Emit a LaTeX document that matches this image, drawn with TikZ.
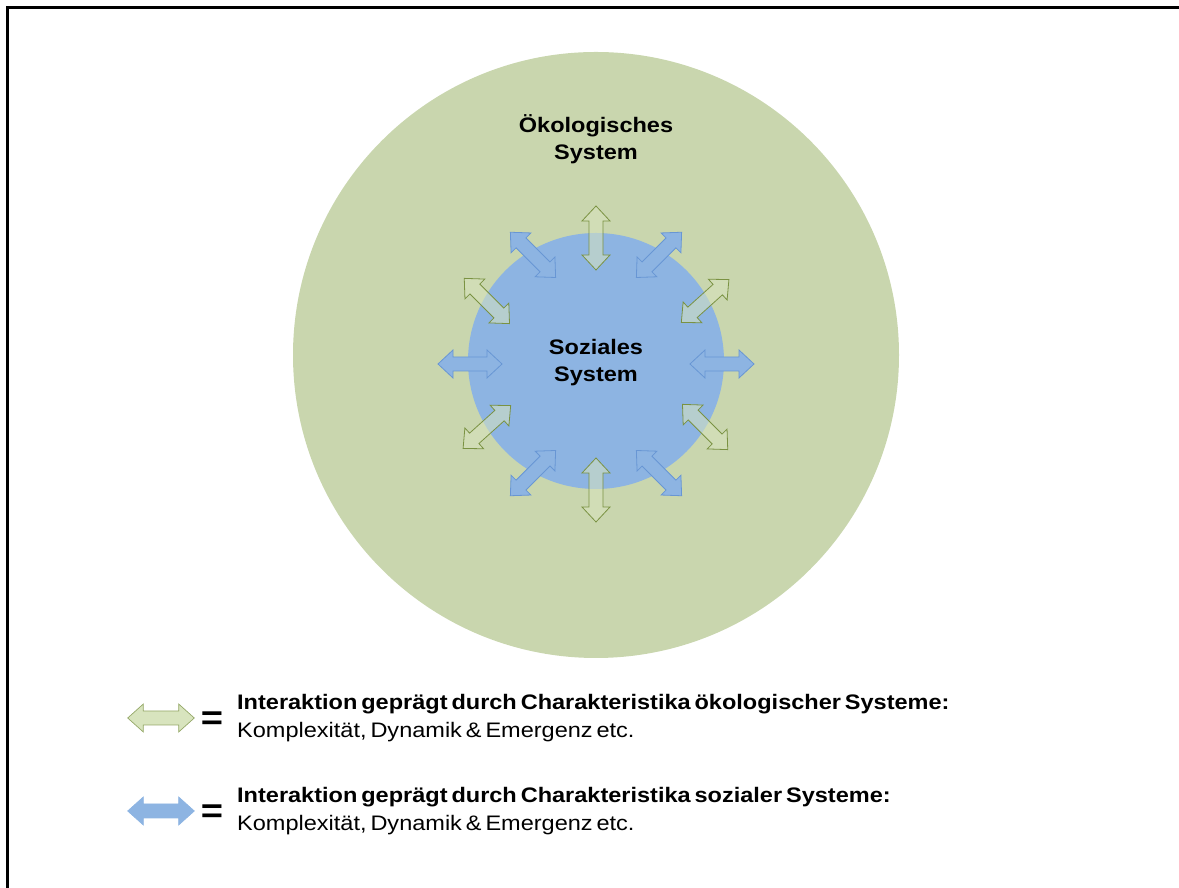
\documentclass[tikz,border=0pt]{standalone}
\usepackage{fontspec}
\setmainfont{Liberation Sans}[FakeStretch=1.12]
\newfontfamily\legendfont{Liberation Sans}[FakeStretch=1.12, WordSpace=0.6]
\usepackage{tikz}

\definecolor{oekogruen}{RGB}{201,214,174}
\definecolor{sozblau}{RGB}{141,180,226}
\definecolor{randblau}{RGB}{104,150,212}
\definecolor{hellgruen}{RGB}{216,228,190}
\definecolor{randgruen}{RGB}{122,146,66}

\tikzset{
	doppelpfeil/.pic={
		\path[pic actions] (-32,0) -- (-17,14) -- (-17,7) -- (17,7) -- (17,14) -- (32,0)
			-- (17,-14) -- (17,-7) -- (-17,-7) -- (-17,-14) -- cycle;
	},
	pfeilblau/.style={fill=sozblau, draw=randblau, line width=0.8pt},
	pfeilgruen/.style={fill=hellgruen, fill opacity=0.55, draw=randgruen, line width=0.8pt},
	titel/.style={font=\fontsize{21}{27}\selectfont\bfseries, align=center},
	legende/.style={font=\legendfont\fontsize{21}{28}\selectfont, align=left, anchor=west, inner sep=0pt},
	gleich/.style={font=\fontsize{34}{34}\selectfont\bfseries},
}

\begin{document}
\begin{tikzpicture}[x=1pt,y=1pt]
	\useasboundingbox (0,0) rectangle (1179,888);
	
	% Rahmen
	\draw[line width=3pt] (7,0) -- (7,880) -- (1179,880);
	
	% Kreise
	\fill[oekogruen] (596,533) circle (303);
	\fill[sozblau] (596,527) circle (128);
	
	\node[titel] (oeko) at (596,749) {Ökologisches\\System};
	\node[titel] (sozial) at (596,525) {Soziales\\System};
	
	% Pfeile rund um das soziale System
	\begin{scope}[shift={(596,524)}]
		\foreach \w/\r in {0/0,60/45,120/135,180/180,240/225,300/315}
			\pic[pfeilblau, rotate=\r] at (\w:126) {doppelpfeil};
		\foreach \w/\r in {30/42,90/90,150/135,210/222,270/90,330/315}
			\pic[pfeilgruen, rotate=\r] at (\w:126) {doppelpfeil};
	\end{scope}
	
	% Legende
	\pic[fill=hellgruen, draw=randgruen!80, line width=0.7pt, xscale=1.04] at (161,170) {doppelpfeil};
	\node[gleich] (gleich1) at (212,167) {=};
	\node[legende] (text1) at (237,170) {\textbf{Interaktion geprägt durch Charakteristika ökologischer Systeme:}\\Komplexität, Dynamik \& Emergenz etc.};
	
	\pic[fill=sozblau, draw=sozblau, line width=0.7pt, xscale=1.04] at (161,77) {doppelpfeil};
	\node[gleich] (gleich2) at (212,74) {=};
	\node[legende] (text2) at (237,77) {\textbf{Interaktion geprägt durch Charakteristika sozialer Systeme:}\\Komplexität, Dynamik \& Emergenz etc.};
	
\end{tikzpicture}
\end{document}
